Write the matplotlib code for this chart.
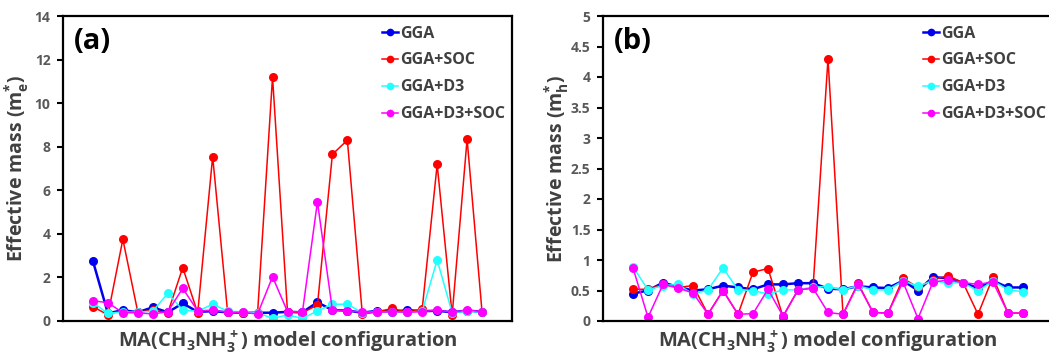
import numpy as np
import matplotlib
matplotlib.use('Agg')
import matplotlib.pyplot as plt
from matplotlib.ticker import FuncFormatter, MultipleLocator

plt.rcParams['font.family'] = ['Open Sans', 'DejaVu Sans']
plt.rcParams['font.weight'] = 'bold'
plt.rcParams['mathtext.fontset'] = 'custom'
plt.rcParams['mathtext.rm'] = 'Open Sans:bold'
plt.rcParams['mathtext.it'] = 'Open Sans:bold'
plt.rcParams['mathtext.bf'] = 'Open Sans:bold'
plt.rcParams['mathtext.default'] = 'regular'

series_names = ['GGA', 'GGA+SOC', 'GGA+D3', 'GGA+D3+SOC']

# (a) electron effective mass, 27 configurations
me_gga = [2.75, 0.35, 0.5, 0.4, 0.63, 0.4, 0.81, 0.42, 0.45, 0.4, 0.38, 0.38, 0.38, 0.42,
          0.4, 0.86, 0.5, 0.48, 0.38, 0.47, 0.42, 0.5, 0.45, 0.47, 0.4, 0.48, 0.42]
me_soc = [0.66, 0.28, 3.75, 0.4, 0.5, 0.37, 2.45, 0.37, 7.55, 0.4, 0.38, 0.35, 11.2, 0.42,
          0.38, 0.73, 7.65, 8.3, 0.31, 0.42, 0.58, 0.4, 0.55, 7.19, 0.28, 8.35, 0.4]
me_d3 = [0.84, 0.35, 0.42, 0.4, 0.45, 1.27, 0.5, 0.45, 0.77, 0.45, 0.42, 0.38, 0.12, 0.28,
         0.12, 0.46, 0.77, 0.77, 0.38, 0.42, 0.42, 0.4, 0.45, 2.8, 0.38, 0.45, 0.4]
me_d3soc = [0.93, 0.84, 0.38, 0.38, 0.32, 0.43, 1.5, 0.46, 0.5, 0.4, 0.4, 0.32, 2.03, 0.43,
            0.42, 5.47, 0.5, 0.48, 0.4, 0.4, 0.43, 0.4, 0.43, 0.5, 0.4, 0.5, 0.43]

# (b) hole effective mass
mh_gga = [0.45, 0.5, 0.63, 0.56, 0.5, 0.52, 0.58, 0.55, 0.52, 0.6, 0.6, 0.62, 0.62, 0.53,
          0.52, 0.57, 0.55, 0.54, 0.66, 0.5, 0.72, 0.7, 0.63, 0.54, 0.66, 0.55, 0.55]
mh_soc = [0.52, 0.52, 0.6, 0.55, 0.58, 0.11, 0.5, 0.11, 0.8, 0.86, 0.07, 0.51, 0.54, 4.3,
          0.11, 0.62, 0.14, 0.13, 0.7, 0.55, 0.68, 0.74, 0.63, 0.11, 0.72, 0.13, 0.13]
mh_d3 = [0.89, 0.51, 0.58, 0.6, 0.44, 0.51, 0.87, 0.51, 0.5, 0.44, 0.51, 0.51, 0.56, 0.56,
         0.51, 0.58, 0.51, 0.51, 0.66, 0.57, 0.66, 0.62, 0.63, 0.49, 0.66, 0.51, 0.48]
mh_d3soc = [0.87, 0.06, 0.6, 0.54, 0.46, 0.11, 0.5, 0.11, 0.12, 0.52, 0.08, 0.51, 0.54, 0.14,
            0.11, 0.6, 0.14, 0.13, 0.64, 0.04, 0.64, 0.67, 0.63, 0.6, 0.64, 0.13, 0.13]

colors = ['#0000ee', '#ff0000', '#22ffff', '#ff00ff']
widths = [1.8, 1.1, 1.1, 1.1]

fig = plt.figure(figsize=(10.49, 3.6), dpi=100)
ax_a = fig.add_axes([63 / 1049, 39 / 360, 449 / 1049, 305 / 360])
ax_b = fig.add_axes([603 / 1049, 39 / 360, 450 / 1049, 305 / 360])

panels = [
    (ax_a, [me_gga, me_soc, me_d3, me_d3soc], 14, 2, '(a)', 'e'),
    (ax_b, [mh_gga, mh_soc, mh_d3, mh_d3soc], 5, 0.5, '(b)', 'h'),
]

for ax, data, ymax, step, tag, sub in panels:
    x = np.arange(len(data[0]))
    for vals, name, c, lw in zip(data, series_names, colors, widths):
        ax.plot(x, vals, '-o', color=c, lw=lw, markersize=6.5, markeredgewidth=0, label=name)
    ax.set_xlim(-2, 28)
    ax.set_ylim(0, ymax)
    ax.yaxis.set_major_locator(MultipleLocator(step))
    ax.yaxis.set_major_formatter(FuncFormatter(lambda v, p: f'{v:g}'))
    ax.set_xticks([])
    ax.tick_params(axis='y', direction='out', length=4, width=1.5, labelsize=10,
                   labelcolor='#595959', pad=5)
    for s in ax.spines.values():
        s.set_linewidth(1.6)
        s.set_color('black')
    ax.set_ylabel('Effective mass (m$_{' + sub + '}^{*}$)', fontsize=14, fontweight='bold',
                  color='#404040')
    ax.yaxis.set_label_coords(-0.072, 0.5)
    ax.set_xlabel('MA(CH$_3$NH$_3^+$) model configuration', fontsize=14.5, fontweight='bold',
                  color='#404040', labelpad=5)
    ax.text(0.024, 0.965, tag, transform=ax.transAxes, fontsize=21, fontweight='bold',
            va='top', ha='left', color='black')
    leg = ax.legend(loc='upper left', bbox_to_anchor=(0.69, 1.0), frameon=False,
                    handlelength=1.0, handletextpad=0.1, labelspacing=0.68, borderaxespad=0.2,
                    prop={'size': 11.5, 'weight': 'bold'}, markerscale=0.85)
    for t in leg.get_texts():
        t.set_color('#404040')

fig.savefig('out.png', dpi=100)
